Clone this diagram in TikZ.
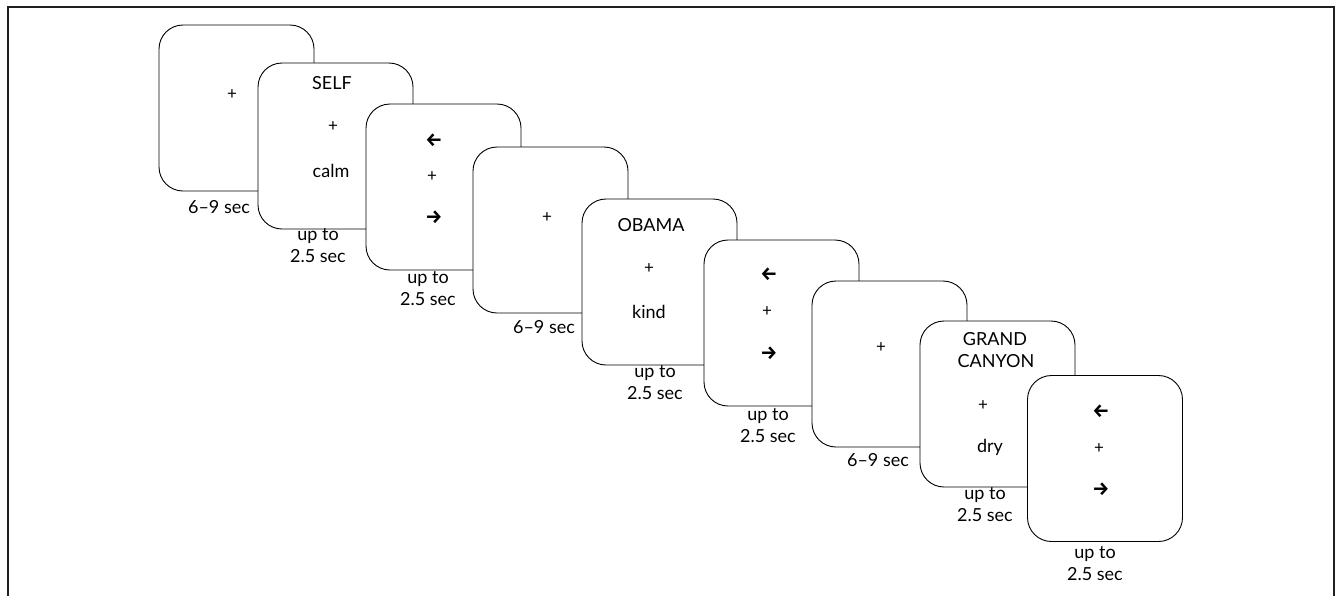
\documentclass[tikz,border=0pt]{standalone}
\usepackage{fontspec}
\setmainfont{Lato}
\newfontfamily\arrowfont{Fira Sans}
\definecolor{framecol}{HTML}{231F20}
\tikzset{
  card/.style={draw=black, line width=0.9pt, fill=white, rounded corners=24pt,
    minimum width=155pt, minimum height=166pt, inner sep=0pt},
  txt/.style={font=\fontsize{18}{22}\selectfont, inner sep=0pt, anchor=base},
  plus/.style={font=\fontsize{17}{18}\selectfont, inner sep=0pt},
  arr/.style={font=\arrowfont\bfseries\fontsize{19}{18}\selectfont, inner sep=0pt},
  lbl/.style={font=\fontsize{18}{22}\selectfont, inner sep=0pt, anchor=base, align=center},
}
\begin{document}
\begin{tikzpicture}[x=1pt,y=-1pt]
\useasboundingbox (0,0) rectangle (1335,595);
\draw[framecol, line width=2.4pt] (8,600) -- (8,7) -- (1334,7) -- (1334,600);
% box 1
\node[card] (b1) at (236.5,108) {};
\node[plus] (b1p) at (232,95) {+};
% box 2
\node[card] (b2) at (335.5,146) {};
\node[txt] (b2w) at (332,89) {SELF};
\node[plus] (b2p) at (333,127) {+};
\node[txt] (b2a) at (331,177) {calm};
% box 3
\node[card] (b3) at (443.5,187) {};
\node[arr] (b3l) at (434,140) {←};
\node[plus] (b3p) at (432,177) {+};
\node[arr] (b3r) at (434,217) {→};
% box 4
\node[card] (b4) at (550.5,230) {};
\node[plus] (b4p) at (547,218) {+};
% box 5
\node[card] (b5) at (659.5,282) {};
\node[txt] (b5w) at (651,231) {OBAMA};
\node[plus] (b5p) at (649,269) {+};
\node[txt] (b5a) at (649,318) {kind};
% box 6
\node[card] (b6) at (781.5,323) {};
\node[arr] (b6l) at (769,274) {←};
\node[plus] (b6p) at (767,312) {+};
\node[arr] (b6r) at (769,353) {→};
% box 7
\node[card] (b7) at (889.5,364) {};
\node[plus] (b7p) at (881,348) {+};
% box 8
\node[card] (b8) at (997.5,404) {};
\node[txt] (b8w) at (995,345) {GRAND};
\node[txt] (b8v) at (996,367) {CANYON};
\node[plus] (b8p) at (983,406) {+};
\node[txt] (b8a) at (990,452) {dry};
% box 9
\node[card] (b9) at (1105,458.5) {};
\node[arr] (b9l) at (1101,411) {←};
\node[plus] (b9p) at (1099,449) {+};
\node[arr] (b9r) at (1101,489) {→};
% labels
\node[lbl] (l1) at (219,213) {6–9 sec};
\node[lbl] (l2) at (318,262) {up to\\2.5 sec};
\node[lbl] (l3) at (428,305) {up to\\2.5 sec};
\node[lbl] (l4) at (544,333) {6–9 sec};
\node[lbl] (l5) at (655,399) {up to\\2.5 sec};
\node[lbl] (l6) at (768,442) {up to\\2.5 sec};
\node[lbl] (l7) at (878,466) {6–9 sec};
\node[lbl] (l8) at (985,521) {up to\\2.5 sec};
\node[lbl] (l9) at (1095,580) {up to\\2.5 sec};
\end{tikzpicture}
\end{document}
